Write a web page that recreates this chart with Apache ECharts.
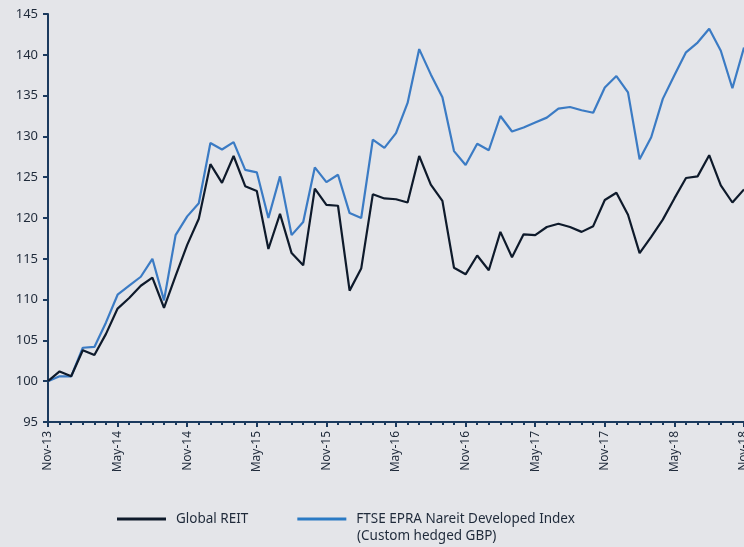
<!DOCTYPE html>
<html>
<head>
<meta charset="utf-8">
<script src="https://cdn.jsdelivr.net/npm/echarts@6/dist/echarts.min.js"></script>
<style>
html,body{margin:0;padding:0;background:#e4e5e9;}
#c{width:744px;height:547px;}
</style>
</head>
<body>
<div id="c"></div>
<script>
const months = ["Nov-13","Dec-13","Jan-14","Feb-14","Mar-14","Apr-14","May-14","Jun-14","Jul-14","Aug-14","Sep-14","Oct-14",
"Nov-14","Dec-14","Jan-15","Feb-15","Mar-15","Apr-15","May-15","Jun-15","Jul-15","Aug-15","Sep-15","Oct-15",
"Nov-15","Dec-15","Jan-16","Feb-16","Mar-16","Apr-16","May-16","Jun-16","Jul-16","Aug-16","Sep-16","Oct-16",
"Nov-16","Dec-16","Jan-17","Feb-17","Mar-17","Apr-17","May-17","Jun-17","Jul-17","Aug-17","Sep-17","Oct-17",
"Nov-17","Dec-17","Jan-18","Feb-18","Mar-18","Apr-18","May-18","Jun-18","Jul-18","Aug-18","Sep-18","Oct-18","Nov-18"];

const globalREIT = [100.0,101.2,100.6,103.8,103.2,105.8,108.9,110.2,111.7,112.7,109.0,112.9,
116.7,119.9,126.6,124.3,127.6,123.9,123.3,116.2,120.5,115.7,114.2,123.6,
121.6,121.5,111.1,113.8,122.9,122.4,122.3,121.9,127.6,124.1,122.1,113.9,
113.1,115.4,113.6,118.3,115.2,118.0,117.9,118.9,119.3,118.9,118.3,119.0,
122.2,123.1,120.4,115.7,117.7,119.8,122.4,124.9,125.1,127.7,124.0,121.9,123.5];

const ftseEPRA = [100.0,100.6,100.6,104.1,104.2,107.2,110.6,111.7,112.8,115.0,109.9,117.9,
120.2,121.8,129.2,128.4,129.3,125.9,125.6,120.0,125.1,117.9,119.5,126.2,
124.4,125.3,120.6,120.0,129.6,128.6,130.4,134.1,140.7,137.6,134.8,128.2,
126.5,129.1,128.3,132.5,130.6,131.1,131.7,132.3,133.4,133.6,133.2,132.9,
136.0,137.4,135.4,127.2,129.9,134.6,137.5,140.3,141.5,143.2,140.5,135.9,140.9];

const seriesNames = ["Global REIT","FTSE EPRA Nareit Developed Index"];
const legendSecondLine = "(Custom hedged GBP)";

const axisColor = "#1b3a5e";
const textColor = "#1f2a3a";
const font = "Noto Sans";

const chart = echarts.init(document.getElementById('c'));
chart.setOption({
  backgroundColor: "#e4e5e9",
  animation: false,
  grid: {left: 48, right: 0, top: 14, bottom: 125, containLabel: false, outerBoundsMode: 'none'},
  xAxis: [{
    type: 'category', data: months, boundaryGap: false,
    axisLine: {lineStyle: {color: axisColor, width: 2}},
    axisTick: {show: true, interval: 0, length: 3, lineStyle: {color: axisColor, width: 2}},
    axisLabel: {interval: 5, rotate: 90, color: textColor, fontFamily: font, fontSize: 12, margin: 9, hideOverlap: false},
    splitLine: {show: false}
  },{
    type: 'category', data: months, boundaryGap: false, position: 'bottom',
    axisLine: {show: false},
    axisTick: {show: true, interval: 5, length: 5, lineStyle: {color: axisColor, width: 2}},
    axisLabel: {show: false},
    splitLine: {show: false}
  }],
  yAxis: {
    type: 'value', min: 95, max: 145, interval: 5,
    axisLine: {show: true, lineStyle: {color: axisColor, width: 2}},
    axisTick: {show: true, length: 5, lineStyle: {color: axisColor, width: 2}},
    axisLabel: {color: textColor, fontFamily: font, fontSize: 13, margin: 10},
    splitLine: {show: false}
  },
  legend: {
    left: 117, top: 512, padding: 0,
    icon: 'rect', itemWidth: 49, itemHeight: 3, itemGap: 49,
    textStyle: {color: textColor, fontFamily: font, fontSize: 13.5, padding: [0,0,0,5]},
    data: seriesNames
  },
  graphic: [{
    type: 'text', left: 357, top: 529,
    style: {text: legendSecondLine, fill: textColor, font: '13.5px "Noto Sans"'}
  }],
  series: [{
    name: seriesNames[0], type: 'line', data: globalREIT, showSymbol: false, symbol: 'none',
    lineStyle: {color: '#0e1a2b', width: 2.2}, itemStyle: {color: '#0e1a2b'}, z: 3
  },{
    name: seriesNames[1], type: 'line', data: ftseEPRA, showSymbol: false, symbol: 'none',
    lineStyle: {color: '#3b7bc4', width: 2.2}, itemStyle: {color: '#2a7ac4'}, z: 2
  }]
});
</script>
</body>
</html>
